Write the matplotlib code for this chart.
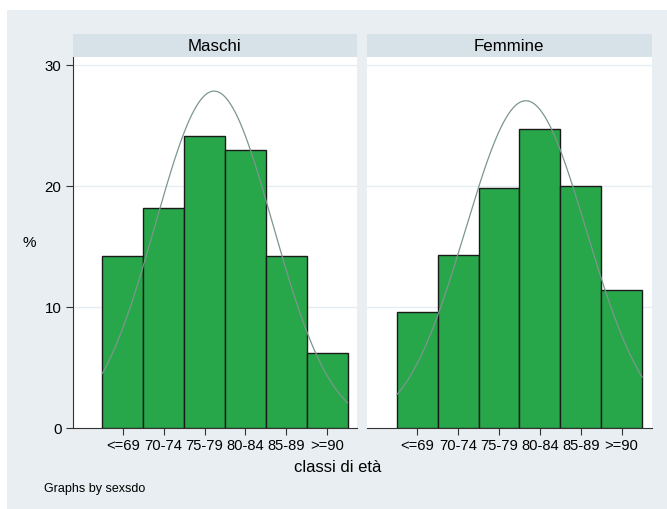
import numpy as np
import matplotlib
matplotlib.use('Agg')
import matplotlib.pyplot as plt
from matplotlib.patches import Rectangle

# Age classes and percentage of patients per class, by sex
classes = ['<=69', '70-74', '75-79', '80-84', '85-89', '>=90']
panels = ['Maschi', 'Femmine']
pct_maschi = [14.2, 18.2, 24.1, 23.0, 14.2, 6.2]
pct_femmine = [9.6, 14.3, 19.8, 24.7, 20.0, 11.4]
yticks = [0, 10, 20, 30]

plt.rcParams['font.family'] = ['Liberation Sans', 'DejaVu Sans']

bg = '#E8EEF1'
strip = '#D6E2E8'
green = '#27A74A'
curve_col = '#7C968F'

W, H = 667, 510
fig = plt.figure(figsize=(W / 100, H / 100), dpi=100)
fig.patch.set_facecolor('white')
fig.add_artist(Rectangle((7 / W, 0), 1, 1 - 11 / H, transform=fig.transFigure,
                         facecolor=bg, edgecolor='none', zorder=0))

x = np.arange(1, len(classes) + 1)
panel_left = [72.5, 367.0]
panel_width = 284.5
top, bottom = 58, 429

for i, (name, vals) in enumerate(zip(panels, [pct_maschi, pct_femmine])):
    vals = np.array(vals)
    ax = fig.add_axes([panel_left[i] / W, (H - bottom) / H,
                       panel_width / W, (bottom - top) / H])
    ax.set_facecolor('white')
    ax.bar(x, vals, width=1.0, color=green, edgecolor='#1a1a1a', linewidth=1.0, zorder=3)

    # normal density with the mean and sd of the distribution, in percent
    mu = (x * vals).sum() / vals.sum()
    sd = np.sqrt((x ** 2 * vals).sum() / vals.sum() - mu ** 2)
    xs = np.linspace(0.5, 6.5, 300)
    dens = 100 / (sd * np.sqrt(2 * np.pi)) * np.exp(-0.5 * ((xs - mu) / sd) ** 2)
    ax.plot(xs, dens, color=curve_col, linewidth=0.9, zorder=4)

    ax.set_xlim(-0.23, 6.73)
    ax.set_ylim(0, 30.66)
    for t in yticks[1:]:
        ax.axhline(t, color='#E6EDF0', linewidth=1.0, zorder=1)
    ax.set_xticks(x)
    ax.set_xticklabels(classes, fontsize=10.6)
    ax.tick_params(axis='x', length=5, width=0.8, color='#333333', pad=2.5)
    for s in ['top', 'right']:
        ax.spines[s].set_visible(False)
    ax.spines['bottom'].set_color('#333333')
    if i == 0:
        ax.set_yticks(yticks)
        ax.set_yticklabels([str(t) for t in yticks], fontsize=10.8)
        ax.tick_params(axis='y', length=5, width=0.8, color='#333333', pad=3)
        ax.spines['left'].set_color('#333333')
    else:
        ax.set_yticks([])
        ax.spines['left'].set_visible(False)

    # panel title strip
    fig.add_artist(Rectangle((panel_left[i] / W, (H - top) / H), panel_width / W, 23 / H,
                             transform=fig.transFigure, facecolor=strip, edgecolor='none'))
    fig.text((panel_left[i] + panel_width / 2) / W, (H - 46.5) / H, name,
             ha='center', va='center', fontsize=12.2)

fig.text(29 / W, (H - 243) / H, '%', ha='center', va='center', fontsize=11)
fig.text(338 / W, (H - 468) / H, 'classi di età', ha='center', va='center', fontsize=12)
fig.text(44 / W, (H - 489) / H, 'Graphs by sexsdo', ha='left', va='center', fontsize=9)

fig.savefig('out.png', dpi=100, facecolor=fig.get_facecolor())
